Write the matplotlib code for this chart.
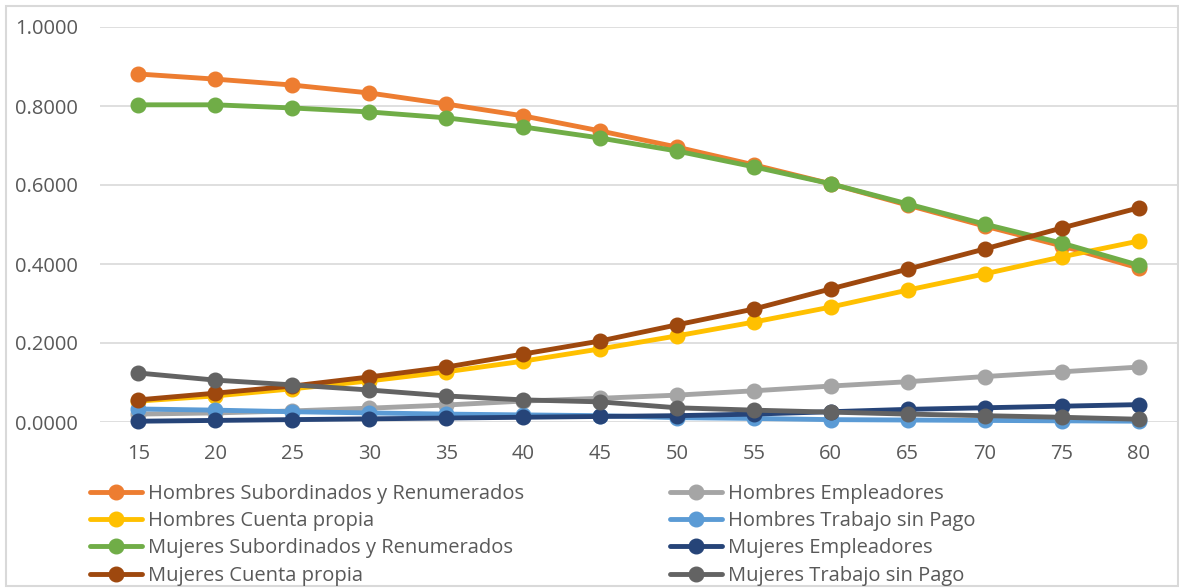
import matplotlib.pyplot as plt
from matplotlib.patches import Rectangle

# edades (grupos quinquenales)
edades = [15, 20, 25, 30, 35, 40, 45, 50, 55, 60, 65, 70, 75, 80]

h_subordinados = [0.881, 0.868, 0.853, 0.833, 0.805, 0.775, 0.737, 0.696, 0.651, 0.603, 0.549, 0.496, 0.446, 0.390]
h_empleadores = [0.020, 0.023, 0.028, 0.035, 0.043, 0.053, 0.060, 0.068, 0.079, 0.091, 0.102, 0.115, 0.127, 0.139]
h_cuenta_propia = [0.053, 0.066, 0.084, 0.104, 0.127, 0.154, 0.185, 0.218, 0.253, 0.291, 0.334, 0.375, 0.418, 0.458]
h_sin_pago = [0.033, 0.030, 0.026, 0.023, 0.020, 0.018, 0.016, 0.011, 0.009, 0.006, 0.005, 0.004, 0.003, 0.002]
m_subordinados = [0.803, 0.803, 0.795, 0.785, 0.770, 0.747, 0.719, 0.686, 0.646, 0.603, 0.552, 0.501, 0.453, 0.397]
m_empleadores = [0.002, 0.004, 0.006, 0.008, 0.010, 0.012, 0.014, 0.016, 0.020, 0.026, 0.032, 0.036, 0.040, 0.044]
m_cuenta_propia = [0.056, 0.073, 0.091, 0.114, 0.139, 0.172, 0.205, 0.246, 0.286, 0.337, 0.387, 0.438, 0.491, 0.542]
m_sin_pago = [0.124, 0.106, 0.094, 0.081, 0.066, 0.056, 0.051, 0.036, 0.030, 0.025, 0.020, 0.016, 0.012, 0.007]

series = [
    ("Hombres Subordinados y Renumerados", h_subordinados, "#ED7D31"),
    ("Hombres Empleadores", h_empleadores, "#A5A5A5"),
    ("Hombres Cuenta propia", h_cuenta_propia, "#FFC000"),
    ("Hombres Trabajo sin Pago", h_sin_pago, "#5B9BD5"),
    ("Mujeres Subordinados y Renumerados", m_subordinados, "#70AD47"),
    ("Mujeres Empleadores", m_empleadores, "#264478"),
    ("Mujeres Cuenta propia", m_cuenta_propia, "#9E480E"),
    ("Mujeres Trabajo sin Pago", m_sin_pago, "#636363"),
]

plt.rcParams['font.family'] = ['Open Sans', 'DejaVu Sans']
TXT = "#595959"

fig = plt.figure(figsize=(11.79, 5.88), dpi=100)
ax = fig.add_axes([100 / 1179, 1 - 422 / 588, 1077 / 1179, 395 / 588])

lines = {}
for name, vals, col in series:
    ln, = ax.plot(edades, vals, color=col, lw=3.5, marker='o', markersize=10.5,
                  solid_capstyle='round', label=name, clip_on=False)
    lines[name] = ln

ax.set_xlim(12.5, 82.5)
ax.set_ylim(0, 1)
ax.set_xticks(edades)
ax.set_yticks([0, 0.2, 0.4, 0.6, 0.8, 1.0])
ax.set_yticklabels(["%.4f" % v for v in [0, 0.2, 0.4, 0.6, 0.8, 1.0]])
ax.tick_params(length=0, labelsize=14.5, colors=TXT)
ax.tick_params(axis='x', pad=16)
ax.tick_params(axis='y', pad=16)
ax.grid(axis='y', color="#D9D9D9", lw=1.2)
ax.set_axisbelow(True)
for s in ax.spines.values():
    s.set_visible(False)

# marco del grafico
fig.patches.append(Rectangle((6 / 1179, 2 / 588), 1172 / 1179, 580 / 588,
                             transform=fig.transFigure, fill=False,
                             edgecolor="#D9D9D9", lw=1.5))

izq = ["Hombres Subordinados y Renumerados", "Hombres Cuenta propia",
       "Mujeres Subordinados y Renumerados", "Mujeres Cuenta propia"]
der = ["Hombres Empleadores", "Hombres Trabajo sin Pago",
       "Mujeres Empleadores", "Mujeres Trabajo sin Pago"]
for nombres, x0 in [(izq, 90 / 1179), (der, 670 / 1179)]:
    fig.legend([lines[n] for n in nombres], nombres, loc='upper left',
               bbox_to_anchor=(x0, 1 - 484 / 588), frameon=False,
               fontsize=14.5, labelcolor=TXT, handlelength=2.6,
               handletextpad=0.3, labelspacing=0.36, borderpad=0,
               borderaxespad=0)

fig.savefig("out.png", dpi=100)
